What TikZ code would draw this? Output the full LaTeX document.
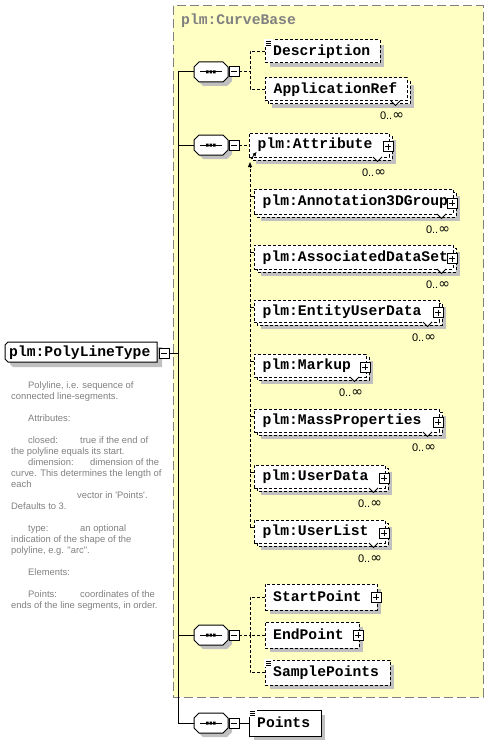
\documentclass[tikz,border=0pt]{standalone}
\usepackage{fontspec}
\setmainfont{Liberation Sans}[Ligatures=TeXOff]
\newfontfamily\lmono{Liberation Mono}
\newfontfamily\djv{DejaVu Sans}
\usetikzlibrary{arrows.meta}

\definecolor{ybg}{RGB}{255,255,196}
\definecolor{shd}{RGB}{192,192,192}
\definecolor{gtx}{RGB}{128,128,128}

\newcommand\elfont{\lmono\bfseries\fontsize{14.7}{16}\selectfont}
\newcommand\multfont{\fontsize{11}{12}\selectfont}
\newcommand\descfont{\fontsize{9.4}{11}\selectfont}
\newcommand\infsym{{\djv\fontsize{14}{14}\selectfont ∞}}

\tikzset{
 dsh/.style={dash pattern=on 3pt off 2pt},
 ebox/.style={draw=black, fill=white, line width=1pt, inner sep=0pt, outer sep=0pt, anchor=north west},
 lbl/.style={font=\elfont, anchor=base west, inner sep=0pt},
 mult/.style={font=\multfont, inner sep=0pt, anchor=base},
 sq/.style={draw=black, fill=white, line width=1pt, minimum size=10pt, inner sep=0pt, outer sep=0pt},
 dtxt/.style={font=\descfont, text=gtx, anchor=base west, inner sep=0pt},
 conn/.style={line width=1pt},
}

\newcommand\plusbox[3]{%
 \node[sq] (#1) at ({#2},{#3}) {};
 \draw[line width=1pt] ([xshift=-3pt]#1.center) -- ([xshift=3pt]#1.center)
   ([yshift=-3pt]#1.center) -- ([yshift=3pt]#1.center);
}
\newcommand\minusbox[3]{%
 \node[sq] (#1) at ({#2},{#3}) {};
 \draw[line width=1pt] ([xshift=-3pt]#1.center) -- ([xshift=3pt]#1.center);
}
\newcommand\docicon[2]{%
 \fill[white] ({#1-1},{#2-1}) rectangle ({#1+8},{#2+7});
 \draw[line width=0.8pt] ({#1+1},{#2+1.5}) -- ({#1+6},{#2+1.5}) ({#1+1},{#2+3.5}) -- ({#1+6},{#2+3.5}) ({#1+1},{#2+5.5}) -- ({#1+6},{#2+5.5});
}
\newcommand\multiel[7]{%
 \pgfmathsetmacro\mxa{#2}\pgfmathsetmacro\mya{#3}%
 \pgfmathsetmacro\mxb{#4}\pgfmathsetmacro\myb{#5}%
 \pgfmathsetmacro\myc{(#3+#5-3)/2}\pgfmathsetmacro\mym{(#3+#5)/2}%
 \fill[shd] (\mxa+7,\mya+7) rectangle (\mxb+4,\myb+4);
 \draw[dsh, line width=1pt, fill=white] (\mxa+3,\mya+3) rectangle (\mxb,\myb);
 \node[ebox, dsh, minimum width={(#4-#2-3)*1pt}, minimum height={(#5-#3-3)*1pt}] (#1) at (\mxa,\mya) {};
 \node[lbl] (#1-t) at (\mxa+8.5,\myc+4) {#6};
 \filldraw[fill=white, line width=0.8pt] (\mxb-19,\myb-3) -- (\mxb-14.5,\myb+1.5) -- (\mxb-10,\myb-3);
 \node[mult] (#1-m) at (\mxb-18,\myb+16) {0..\infsym};
 #7
}
\newcommand\singleel[8]{%
 \pgfmathsetmacro\mxa{#2}\pgfmathsetmacro\mya{#3}%
 \pgfmathsetmacro\mxb{#4}\pgfmathsetmacro\myb{#5}%
 \pgfmathsetmacro\myc{(#3+#5)/2}%
 \fill[shd] (\mxa+5,\mya+5) rectangle (\mxb+4,\myb+4);
 \node[ebox, #7, minimum width={(#4-#2)*1pt}, minimum height={(#5-#3)*1pt}] (#1) at (\mxa,\mya) {};
 \node[lbl] (#1-t) at (\mxa+8,\myc+4) {#6};
 #8
}
\newcommand\seqcomp[3]{%
 \begin{scope}[shift={(#2,#3)}]
 \fill[shd,shift={(4,4)}] (0,-5) -- (5,-10) -- (29,-10) -- (34,-5) -- (34,5) -- (29,10) -- (5,10) -- (0,5) -- cycle;
 \draw[line width=1pt, fill=white] (0,-5) -- (5,-10) -- (29,-10) -- (34,-5) -- (34,5) -- (29,10) -- (5,10) -- (0,5) -- cycle;
 \node[inner sep=0pt, outer sep=0pt, minimum width=34pt, minimum height=20pt] (#1) at (17,0) {};
 \draw[line width=1pt] (6,0) -- (28,0);
 \fill (12,-1.5) rectangle (14.5,1.5) (15.5,-1.5) rectangle (18,1.5) (19,-1.5) rectangle (21.5,1.5);
 \minusbox{#1-m}{40}{0}
 \end{scope}
}

\begin{document}
\begin{tikzpicture}[x=1pt,y=-1pt]
\useasboundingbox (0,0) rectangle (489,741);

% group box
\draw[draw=gtx, line width=1pt, dash pattern=on 9pt off 4pt, fill=ybg] (173,6) rectangle (483,697);
\node[lbl, text=gtx] (cb) at (181,25) {plm:CurveBase};

% main node
\fill[shd] (10,350) -- (13,347) -- (162,347) -- (162,367) -- (13,367) -- (10,364) -- cycle;
\draw[line width=1pt, fill=white] (5,345) -- (8,342) -- (157,342) -- (157,362) -- (8,362) -- (5,359) -- cycle;
\node[inner sep=0pt, outer sep=0pt, minimum width=152pt, minimum height=20pt] (main) at (81,352) {};
\node[lbl] (main-t) at (9,356.5) {plm:PolyLineType};
\minusbox{main-m}{164}{353}

% description
\node[dtxt] (d1) at (28,388) {Polyline, i.e. sequence of};
\node[dtxt] (d2) at (11,399) {connected line-segments.};
\node[dtxt] (d3) at (28,421) {Attributes:};
\node[dtxt] (d4) at (28,443) {closed:};
\node[dtxt] (d4b) at (80,443) {true if the end of};
\node[dtxt] (d5) at (11,454) {the polyline equals its start.};
\node[dtxt] (d6) at (28,465) {dimension:};
\node[dtxt] (d6b) at (90,465) {dimension of the};
\node[dtxt] (d7) at (11,476) {curve. This determines the length of};
\node[dtxt] (d8) at (11,487) {each};
\node[dtxt] (d9) at (77,498) {vector in 'Points'.};
\node[dtxt] (d10) at (11,509) {Defaults to 3.};
\node[dtxt] (d11) at (28,531) {type:};
\node[dtxt] (d11b) at (80,531) {an optional};
\node[dtxt] (d12) at (11,542) {indication of the shape of the};
\node[dtxt] (d13) at (11,553) {polyline, e.g. "arc".};
\node[dtxt] (d14) at (28,575) {Elements:};
\node[dtxt] (d15) at (28,597) {Points:};
\node[dtxt] (d15b) at (80,597) {coordinates of the};
\node[dtxt] (d16) at (11,608) {ends of the line segments, in order.};

% spine
\coordinate (sptop) at (178,72);
\coordinate (spbot) at (178,723);
\coordinate (spm) at (178,353);
\draw[conn] (sptop) -- (spbot);
\draw[conn] (main-m.east) -- (spm);

% compositors
\seqcomp{seqa}{194}{72}
\seqcomp{seqb}{194}{145}
\seqcomp{seqc}{194}{635}
\seqcomp{seqd}{194}{723}
\draw[conn] (seqa.west) -- (seqa.west -| sptop);
\draw[conn] (seqb.west) -- (seqb.west -| sptop);
\draw[conn] (seqc.west) -- (seqc.west -| sptop);
\draw[conn] (seqd.west) -- (seqd.west -| sptop);

% first sequence
\singleel{desc}{265}{40}{380}{63}{Description}{dsh}{\docicon{265}{40}}
\multiel{appref}{265}{78}{410}{104}{ApplicationRef}{}
\coordinate (ja) at (250,72);
\draw[conn,dsh] (seqa-m.east) -- (ja);
\draw[conn,dsh] (desc.west) -| (ja);
\draw[conn,dsh] (appref.west) -| (ja);

% second sequence
\multiel{attr}{249}{133}{392}{160}{plm:Attribute}{\plusbox{attr-p}{\mxb-4}{\mym}}
\multiel{annot}{254}{189}{456}{217}{plm:Annotation3DGroup}{\plusbox{annot-p}{\mxb-4}{\mym}}
\multiel{assoc}{254}{245}{456}{272}{plm:AssociatedDataSet}{\plusbox{assoc-p}{\mxb-4}{\mym}}
\multiel{entity}{254}{300}{442}{325}{plm:EntityUserData}{\plusbox{entity-p}{\mxb-4}{\mym}}
\multiel{markup}{254}{354}{369}{380}{plm:Markup}{\plusbox{markup-p}{\mxb-4}{\mym}}
\multiel{mass}{254}{409}{442}{435}{plm:MassProperties}{\plusbox{mass-p}{\mxb-4}{\mym}}
\multiel{udata}{254}{465}{388}{491}{plm:UserData}{\plusbox{udata-p}{\mxb-4}{\mym}}
\multiel{ulist}{254}{520}{388}{546}{plm:UserList}{\plusbox{ulist-p}{\mxb-4}{\mym}}
\draw[conn,dsh] (seqb-m.east) -- (attr.west);
\coordinate (vtop) at (250,162);
\coordinate (vbot) at (250,527);
\draw[conn,dsh,-{Triangle[length=5pt,width=4pt]}] (vbot) -- (vtop);
\coordinate (dga) at (251,159);
\coordinate (dgb) at (256.5,152);
\draw[line width=0.8pt,-{Triangle[length=4pt,width=3.5pt]}] (dga) -- (dgb);
\foreach \e in {annot,assoc,entity,markup,mass,udata,ulist}{
  \draw[conn] ([yshift=-7pt]\e.north west) -- ++(-4,0);
}

% third sequence
\singleel{startp}{265}{584}{377}{610}{StartPoint}{dsh}{\plusbox{startp-p}{376}{597}}
\singleel{endp}{265}{622}{359}{648}{EndPoint}{dsh}{\plusbox{endp-p}{358}{635}}
\singleel{samplep}{265}{660}{390}{685}{SamplePoints}{dsh}{\docicon{265}{660}}
\coordinate (jc) at (250,635);
\draw[conn,dsh] (seqc-m.east) -- (jc);
\draw[conn,dsh] (startp.west) -| (jc);
\draw[conn,dsh] (samplep.west) -| (jc);
\draw[conn,dsh] (endp.west) -- (jc);

% fourth sequence
\singleel{points}{249}{710}{321}{736}{Points}{solid}{\docicon{249}{710}}
\draw[conn] (seqd-m.east) -- (points.west);
\end{tikzpicture}
\end{document}
